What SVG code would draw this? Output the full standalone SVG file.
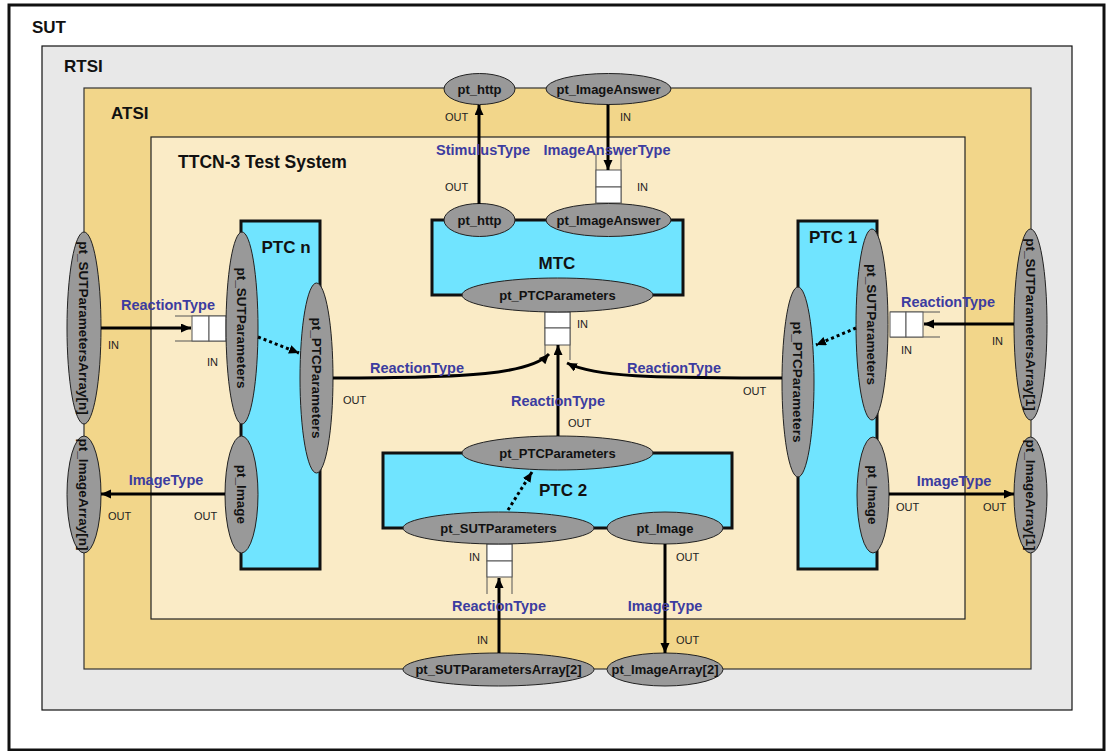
<svg xmlns="http://www.w3.org/2000/svg" width="1106" height="751" viewBox="0 0 1106 751">
<style>
.title{font-family:"Liberation Sans",Arial,sans-serif;font-weight:bold;font-size:17px;fill:#111}
.port{fill:#999999;stroke:#222;stroke-width:1}
.pl{font-family:"Liberation Sans",Arial,sans-serif;font-weight:bold;font-size:13px;fill:#111;text-anchor:middle}
.vl{font-size:13.5px}
.typ{font-family:"Liberation Sans",Arial,sans-serif;font-weight:bold;font-size:14.5px;fill:#3c3ca0;text-anchor:middle}
.io{font-family:"Liberation Sans",Arial,sans-serif;font-size:11px;fill:#222}
.comp{fill:#70e4ff;stroke:#111;stroke-width:3}
.cell{fill:#ffffff;stroke:#555;stroke-width:1}
.qline{stroke:#555;stroke-width:1;fill:none}
.conn{stroke:#000;stroke-width:3;fill:none}
.dot{stroke:#000;stroke-width:3;fill:none;stroke-dasharray:3 3}
</style>
<defs>
<marker id="arr" markerUnits="userSpaceOnUse" markerWidth="11" markerHeight="10" refX="10" refY="4.5" orient="auto">
<path d="M0,0 L10,4.5 L0,9 z" fill="#000"/>
</marker>
</defs>

<g id="SUT">
<rect x="9" y="5" width="1095" height="745" fill="#ffffff" stroke="#111" stroke-width="3"/>
<text class="title" x="32" y="33">SUT</text>
</g>
<g id="RTSI">
<rect x="42" y="46" width="1030" height="664" fill="#e8e8e8" stroke="#111" stroke-width="1.2"/>
<text class="title" x="64" y="72">RTSI</text>
</g>
<g id="ATSI">
<rect x="84" y="88" width="947" height="581" fill="#f2d68a" stroke="#333" stroke-width="1.2"/>
<text class="title" x="111" y="119">ATSI</text>
</g>
<g id="TTCN3">
<rect x="151" y="137" width="814" height="482" fill="#faebc6" stroke="#222" stroke-width="1.2"/>
<text class="title" x="178" y="168" style="font-size:17.5px">TTCN-3 Test System</text>
</g>

<g id="MTC">
<rect class="comp" x="432" y="220" width="251" height="75"/>
<text class="title" x="557" y="269" text-anchor="middle">MTC</text>
</g>
<g id="PTCn">
<rect class="comp" x="241" y="221" width="79" height="348"/>
<text class="title" x="286" y="253" text-anchor="middle">PTC n</text>
</g>
<g id="PTC1">
<rect class="comp" x="798" y="221" width="79" height="348"/>
<text class="title" x="833" y="243" text-anchor="middle">PTC 1</text>
</g>
<g id="PTC2">
<rect class="comp" x="383" y="453" width="349" height="75"/>
<text class="title" x="563" y="496" text-anchor="middle">PTC 2</text>
</g>

<g id="queues">
<g id="q_imageanswer">
<path class="qline" d="M596,154 V203 M621,154 V203"/>
<rect class="cell" x="596" y="170" width="25" height="17"/>
<rect class="cell" x="596" y="187" width="25" height="16"/>
</g>
<g id="q_mtc">
<path class="qline" d="M545,312 V360 M570,312 V360"/>
<rect class="cell" x="545" y="312" width="25" height="16"/>
<rect class="cell" x="545" y="328" width="25" height="17"/>
</g>
<g id="q_ptcn">
<path class="qline" d="M175,316 H226 M175,341 H226"/>
<rect class="cell" x="192" y="316" width="17" height="25"/>
<rect class="cell" x="209" y="316" width="17" height="25"/>
</g>
<g id="q_ptc1">
<path class="qline" d="M890,312 H940 M890,337 H940"/>
<rect class="cell" x="890" y="312" width="16" height="25"/>
<rect class="cell" x="906" y="312" width="17" height="25"/>
</g>
<g id="q_ptc2">
<path class="qline" d="M487,544 V594 M512,544 V594"/>
<rect class="cell" x="487" y="544" width="25" height="17"/>
<rect class="cell" x="487" y="561" width="25" height="16"/>
</g>
</g>

<g id="ports">
<g id="p_http_top"><ellipse class="port" cx="479.5" cy="89" rx="35.5" ry="15.5"/><text class="pl" x="479.5" y="93.5">pt_http</text></g>
<g id="p_ia_top"><ellipse class="port" cx="608.5" cy="89" rx="62.5" ry="15.5"/><text class="pl" x="608.5" y="93.5">pt_ImageAnswer</text></g>
<g id="p_http_mtc"><ellipse class="port" cx="479.5" cy="220" rx="35.5" ry="16.5"/><text class="pl" x="479.5" y="224.5">pt_http</text></g>
<g id="p_ia_mtc"><ellipse class="port" cx="608.5" cy="220" rx="62.5" ry="16.5"/><text class="pl" x="608.5" y="224.5">pt_ImageAnswer</text></g>
<g id="p_ptc_mtc"><ellipse class="port" cx="557.5" cy="295" rx="95.5" ry="17"/><text class="pl" x="557.5" y="299.5">pt_PTCParameters</text></g>

<g id="p_ptc_ptc2"><ellipse class="port" cx="557.5" cy="453" rx="95.5" ry="17"/><text class="pl" x="557.5" y="457.5">pt_PTCParameters</text></g>
<g id="p_sut_ptc2"><ellipse class="port" cx="498.5" cy="528" rx="95.5" ry="16"/><text class="pl" x="498.5" y="532.5">pt_SUTParameters</text></g>
<g id="p_img_ptc2"><ellipse class="port" cx="665" cy="528" rx="58" ry="16"/><text class="pl" x="665" y="532.5">pt_Image</text></g>
<g id="p_suta2"><ellipse class="port" cx="498.5" cy="669.5" rx="95.5" ry="16.5"/><text class="pl" x="498.5" y="674">pt_SUTParametersArray[2]</text></g>
<g id="p_imga2"><ellipse class="port" cx="665" cy="669.5" rx="58" ry="16.5"/><text class="pl" x="665" y="674">pt_ImageArray[2]</text></g>

<g id="p_sut_ptcn"><ellipse class="port" cx="242" cy="328" rx="16" ry="96"/><text class="pl vl" transform="translate(242,328) rotate(90)" y="4.8">pt_SUTParameters</text></g>
<g id="p_ptc_ptcn"><ellipse class="port" cx="316.5" cy="378" rx="16.5" ry="95"/><text class="pl vl" transform="translate(316.5,378) rotate(90)" y="4.8">pt_PTCParameters</text></g>
<g id="p_img_ptcn"><ellipse class="port" cx="241.5" cy="494.5" rx="16.5" ry="58.5"/><text class="pl vl" transform="translate(241.5,494.5) rotate(90)" y="4.8">pt_Image</text></g>
<g id="p_sutan"><ellipse class="port" cx="84" cy="328" rx="17" ry="96"/><text class="pl vl" transform="translate(84,328) rotate(90)" y="4.8">pt_SUTParametersArray[n]</text></g>
<g id="p_imgan"><ellipse class="port" cx="84" cy="494.5" rx="17" ry="58.5"/><text class="pl vl" transform="translate(84,494.5) rotate(90)" y="4.8">pt_ImageArray[n]</text></g>

<g id="p_sut_ptc1"><ellipse class="port" cx="872" cy="324.5" rx="16" ry="95.5"/><text class="pl vl" transform="translate(872,324.5) rotate(90)" y="4.8">pt_SUTParameters</text></g>
<g id="p_ptc_ptc1"><ellipse class="port" cx="798" cy="382" rx="16" ry="95"/><text class="pl vl" transform="translate(798,382) rotate(90)" y="4.8">pt_PTCParameters</text></g>
<g id="p_img_ptc1"><ellipse class="port" cx="873" cy="495" rx="16" ry="58"/><text class="pl vl" transform="translate(873,495) rotate(90)" y="4.8">pt_Image</text></g>
<g id="p_suta1"><ellipse class="port" cx="1030.5" cy="324.5" rx="16.5" ry="95.5"/><text class="pl vl" transform="translate(1030.5,324.5) rotate(90)" y="4.8">pt_SUTParametersArray[1]</text></g>
<g id="p_imga1"><ellipse class="port" cx="1030.5" cy="495" rx="16.5" ry="58"/><text class="pl vl" transform="translate(1030.5,495) rotate(90)" y="4.8">pt_ImageArray[1]</text></g>
</g>

<g id="connectors">
<path class="conn" d="M479,204 V105" marker-end="url(#arr)"/>
<path class="conn" d="M608,104.5 V170" marker-end="url(#arr)"/>
<path class="conn" d="M558,436 V345" marker-end="url(#arr)"/>
<path class="conn" d="M333,378 C470,378 530,374 549,354" marker-end="url(#arr)"/>
<path class="conn" d="M782,378 C650,378 595,377 567,363" marker-end="url(#arr)"/>
<path class="conn" d="M101,328 H191" marker-end="url(#arr)"/>
<path class="dot" d="M258,337 L299,353" marker-end="url(#arr)"/>
<path class="conn" d="M225,494 H101" marker-end="url(#arr)"/>
<path class="conn" d="M1014,324 H924" marker-end="url(#arr)"/>
<path class="dot" d="M856,328 L816,345" marker-end="url(#arr)"/>
<path class="conn" d="M889,494 H1014" marker-end="url(#arr)"/>
<path class="conn" d="M499,653 V578" marker-end="url(#arr)"/>
<path class="conn" d="M665,544 V653" marker-end="url(#arr)"/>
<path class="dot" d="M508,510 L532,472" marker-end="url(#arr)"/>
</g>

<g id="labels">
<text class="typ" x="483" y="155">StimulusType</text>
<text class="typ" x="607" y="155">ImageAnswerType</text>
<text class="typ" x="168" y="310">ReactionType</text>
<text class="typ" x="948" y="307">ReactionType</text>
<text class="typ" x="417" y="373">ReactionType</text>
<text class="typ" x="674" y="373">ReactionType</text>
<text class="typ" x="558" y="406">ReactionType</text>
<text class="typ" x="166" y="485">ImageType</text>
<text class="typ" x="954" y="486">ImageType</text>
<text class="typ" x="499" y="611">ReactionType</text>
<text class="typ" x="665" y="611">ImageType</text>

<text class="io" x="445" y="121">OUT</text>
<text class="io" x="445" y="191">OUT</text>
<text class="io" x="620" y="121">IN</text>
<text class="io" x="637" y="191">IN</text>
<text class="io" x="577" y="328">IN</text>
<text class="io" x="568" y="427">OUT</text>
<text class="io" x="343" y="404">OUT</text>
<text class="io" x="743" y="395">OUT</text>
<text class="io" x="108" y="349">IN</text>
<text class="io" x="207" y="366">IN</text>
<text class="io" x="901" y="354">IN</text>
<text class="io" x="992" y="345">IN</text>
<text class="io" x="108" y="520">OUT</text>
<text class="io" x="194" y="520">OUT</text>
<text class="io" x="896" y="511">OUT</text>
<text class="io" x="983" y="511">OUT</text>
<text class="io" x="469" y="561">IN</text>
<text class="io" x="676" y="561">OUT</text>
<text class="io" x="477" y="644">IN</text>
<text class="io" x="676" y="644">OUT</text>
</g>
</svg>
